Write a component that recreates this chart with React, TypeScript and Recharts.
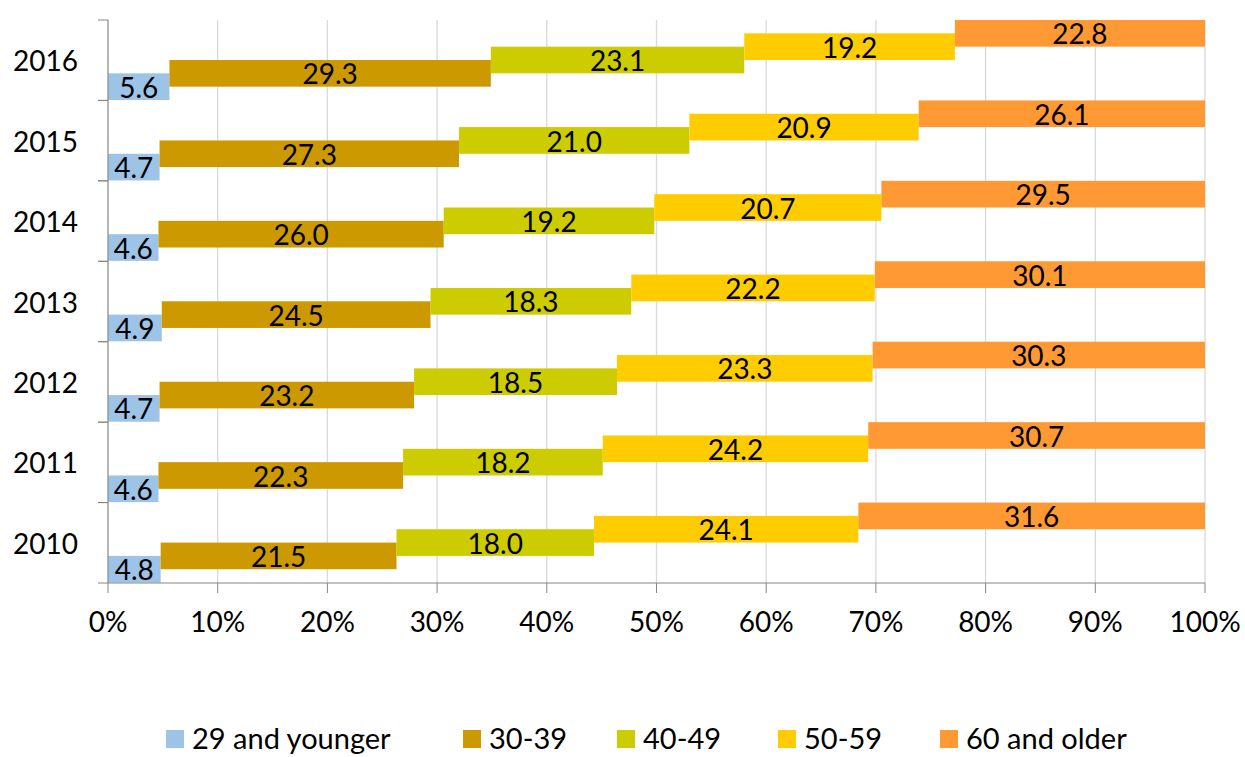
import React from 'react';
import { BarChart, Bar, XAxis, YAxis, CartesianGrid, Legend } from 'recharts';

const years = ['2010', '2011', '2012', '2013', '2014', '2015', '2016'];
const age29 = [4.8, 4.6, 4.7, 4.9, 4.6, 4.7, 5.6];
const age30 = [21.5, 22.3, 23.2, 24.5, 26.0, 27.3, 29.3];
const age40 = [18.0, 18.2, 18.5, 18.3, 19.2, 21.0, 23.1];
const age50 = [24.1, 24.2, 23.3, 22.2, 20.7, 20.9, 19.2];
const age60 = [31.6, 30.7, 30.3, 30.1, 29.5, 26.1, 22.8];
const percentTicks = [0, 10, 20, 30, 40, 50, 60, 70, 80, 90, 100];

const series = [
  { key: 'a29', name: '29 and younger', color: '#9DC3E6' },
  { key: 'a30', name: '30-39', color: '#CC9900' },
  { key: 'a40', name: '40-49', color: '#CCCC00' },
  { key: 'a50', name: '50-59', color: '#FFCC00' },
  { key: 'a60', name: '60 and older', color: '#FF9933' },
];

const data = years.map((year, i) => ({
  year,
  a29: age29[i],
  a30: age30[i],
  a40: age40[i],
  a50: age50[i],
  a60: age60[i],
}));

const FONT = 'Lato, "Liberation Sans", sans-serif';
const WIDTH = 1245;
const HEIGHT = 757;
const PLOT_TOP = 20;
const PLOT_BOTTOM = 583;
const AXIS_X = 108;
const LEGEND_H = 29;
const BAND = (PLOT_BOTTOM - PLOT_TOP) / years.length;
const AXIS_COLOR = '#868686';

// each series sits one sixth of the band higher than the previous one
const makeShape = (i: number, key: string, color: string) => (props: any) => {
  const { x, y, width, height, payload } = props;
  const h = height / 3;
  const top = y + height - h - (i * height) / 6;
  return (
    <g>
      <rect x={x} y={top} width={width} height={h} fill={color} />
      <text
        x={x + width / 2}
        y={top + h / 2 + 1}
        dy="0.36em"
        textAnchor="middle"
        fontSize={28}
        fontFamily={FONT}
        fill="#000"
      >
        {payload[key].toFixed(1)}
      </text>
    </g>
  );
};

const YearTick = (props: any) => {
  const { y, payload } = props;
  return (
    <g>
      <text x={AXIS_X - 30} y={y + 1} dy="0.36em" textAnchor="end" fontSize={28} fontFamily={FONT} fill="#000">
        {payload.value}
      </text>
      <line x1={AXIS_X - 10} x2={AXIS_X} y1={y - BAND / 2} y2={y - BAND / 2} stroke={AXIS_COLOR} />
      <line x1={AXIS_X - 10} x2={AXIS_X} y1={y + BAND / 2} y2={y + BAND / 2} stroke={AXIS_COLOR} />
    </g>
  );
};

const legendLeft = [166, 463, 617, 778, 940];

const LegendContent = () => (
  <div style={{ position: 'relative', width: WIDTH, height: LEGEND_H, fontFamily: FONT }}>
    {series.map((s, i) => (
      <div
        key={s.key}
        style={{ position: 'absolute', left: legendLeft[i], top: -7, display: 'flex', alignItems: 'flex-start' }}
      >
        <div style={{ width: 18, height: 18, background: s.color, marginTop: 9, marginRight: 8 }} />
        <span style={{ fontSize: 29, lineHeight: '34px', color: '#000', whiteSpace: 'nowrap' }}>{s.name}</span>
      </div>
    ))}
  </div>
);

export default function App() {
  return (
    <div style={{ position: 'absolute', left: 0, top: 0, background: '#fff' }}>
      <BarChart
        width={WIDTH}
        height={HEIGHT}
        data={data}
        layout="vertical"
        barCategoryGap={0}
        margin={{ top: PLOT_TOP, right: WIDTH - 1205, left: 0, bottom: 0 }}
      >
        <CartesianGrid horizontal={false} stroke="#D9D9D9" strokeWidth={1.3} />
        <XAxis
          type="number"
          domain={[0, 100]}
          ticks={percentTicks}
          tickFormatter={(v) => `${v}%`}
          interval={0}
          height={HEIGHT - PLOT_BOTTOM - LEGEND_H}
          stroke={AXIS_COLOR}
          tickSize={10}
          tickMargin={19}
          tick={{ fontSize: 28, fontFamily: FONT, fill: '#000' }}
        />
        <YAxis
          type="category"
          dataKey="year"
          reversed
          width={AXIS_X}
          stroke={AXIS_COLOR}
          tickLine={false}
          tick={<YearTick />}
          interval={0}
        />
        <Legend
          verticalAlign="bottom"
          height={LEGEND_H}
          content={<LegendContent />}
          wrapperStyle={{ left: 0, width: WIDTH }}
        />
        {series.map((s, i) => (
          <Bar
            key={s.key}
            dataKey={s.key}
            name={s.name}
            stackId="age"
            fill={s.color}
            shape={makeShape(i, s.key, s.color)}
            isAnimationActive={false}
          />
        ))}
      </BarChart>
    </div>
  );
}
